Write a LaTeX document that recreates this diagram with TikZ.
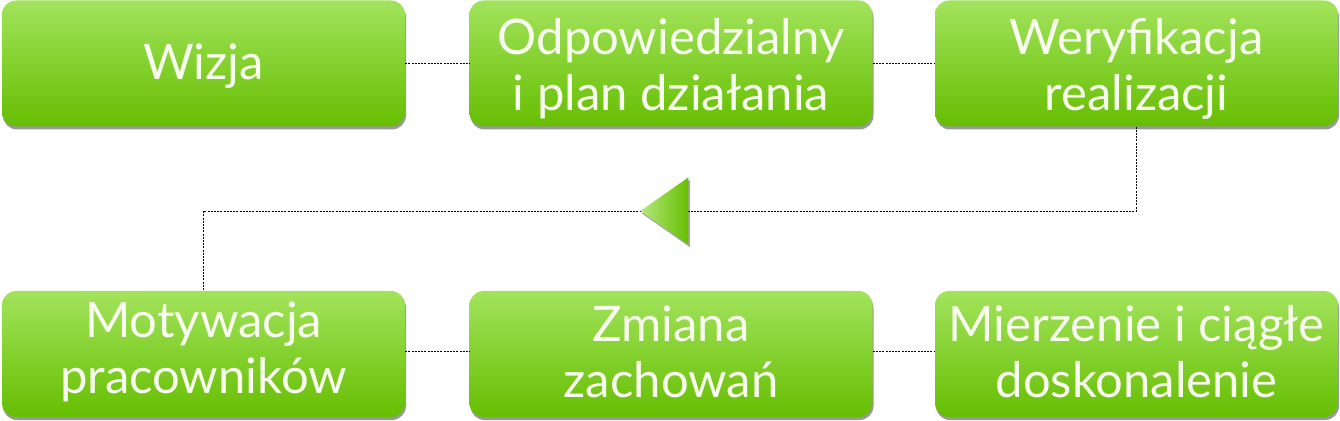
\documentclass[tikz,border=0pt]{standalone}
\usepackage{fontspec}
\setmainfont{Lato}
\usetikzlibrary{shapes.geometric,shadows,calc}
\definecolor{gtop}{HTML}{A2E35C}
\definecolor{gbot}{HTML}{66BE02}
\definecolor{txt}{HTML}{F7FCEE}
\tikzset{
  card/.style={rectangle, rounded corners=14pt, minimum width=403pt, minimum height=126pt,
    top color=gtop, bottom color=gbot, draw=none,
    drop shadow={shadow xshift=1pt, shadow yshift=-3pt, fill=black, opacity=0.4}},
  cardtext/.style={text=txt, align=center, font=\fontsize{49}{56}\selectfont, inner sep=0pt},
  link/.style={draw=black, line width=0.8pt, dash pattern=on 2pt off 1.2pt},
  arrowtri/.style={isosceles triangle, isosceles triangle apex angle=70, shape border rotate=180,
    minimum height=48pt, inner sep=0pt, left color=gtop!80!white, right color=gbot, draw=none,
    drop shadow={shadow xshift=1.5pt, shadow yshift=-2.5pt, fill=black, opacity=0.35}}
}
\begin{document}
\begin{tikzpicture}[x=1pt,y=1pt]
\useasboundingbox (0,0) rectangle (1340,420);
\node[card] (a) at (203.5,356.5) {};
\node[card] (b) at (671,356.5) {};
\node[card] (c) at (1136.5,356.5) {};
\node[card] (d) at (203.5,66) {};
\node[card] (e) at (671,66) {};
\node[card] (f) at (1136.5,66) {};
\node[cardtext] (ta) at ($(a.center)+(0,-3)$) {Wizja};
\node[cardtext] (tb) at ($(b.center)+(0,-5)$) {Odpowiedzialny\\i plan działania};
\node[cardtext] (tc) at ($(c.center)+(0,-5)$) {Weryfikacja\\realizacji};
\node[cardtext] (td) at ($(d.center)+(0,2)$) {Motywacja\\pracowników};
\node[cardtext] (te) at ($(e.center)+(0,2)$) {Zmiana\\zachowań};
\node[cardtext] (tf) at ($(f.center)+(0,2)$) {Mierzenie i ciągłe\\doskonalenie};
\coordinate (turn) at (1136.5,209);
\path[link] (a.east) -- (b.west);
\path[link] (b.east) -- (c.west);
\path[link] (d.east |- 0,69) -- (e.west |- 0,69);
\path[link] (e.east |- 0,69) -- (f.west |- 0,69);
\path[link] (c.south) -- (turn) -| (d.north);
\node[arrowtri, anchor=apex] (t) at (640,209) {};
\end{tikzpicture}
\end{document}
